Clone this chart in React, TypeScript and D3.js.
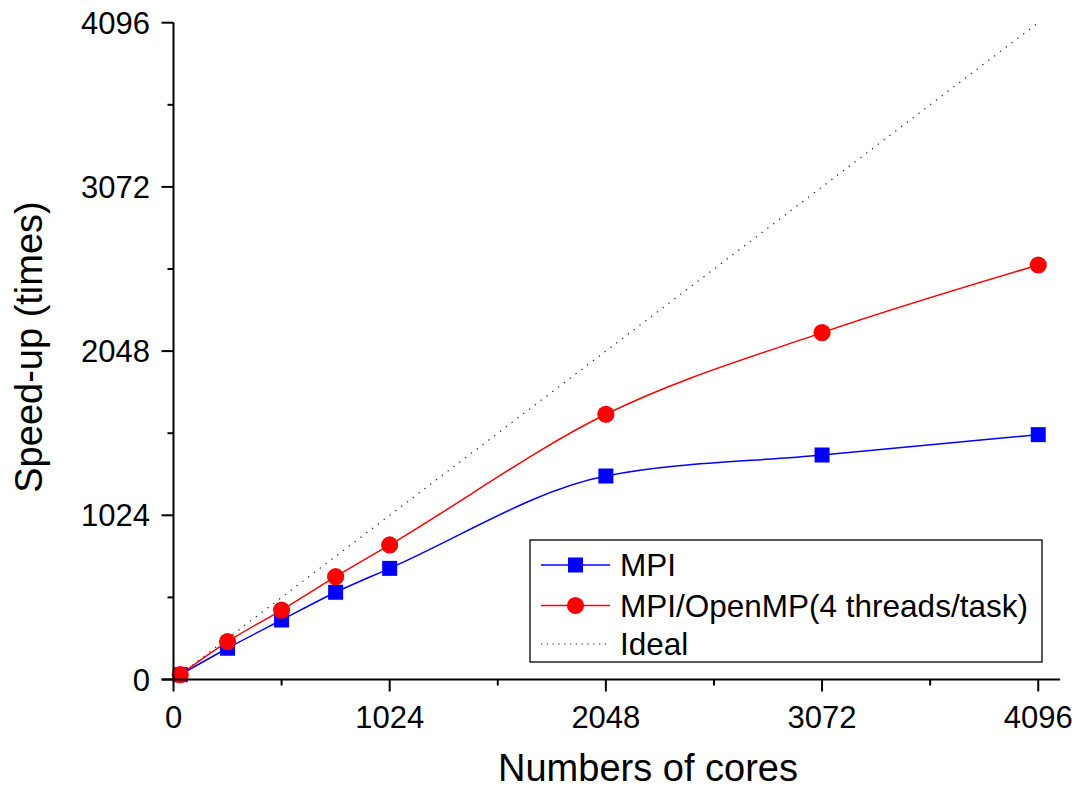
import React from "react";
import * as d3 from "d3";

const cores = [32, 256, 512, 768, 1024, 2048, 3072, 4096];
const mpiSpeedup = [30, 195, 371, 544, 693, 1269, 1400, 1527];
const hybridSpeedup = [30, 236, 433, 641, 839, 1654, 2163, 2585];
const idealSpeedup = [32, 256, 512, 768, 1024, 2048, 3072, 4096];
const majorTicks = [0, 1024, 2048, 3072, 4096];
const minorTicks = [512, 1536, 2560, 3584];
const legendLabels = ["MPI", "MPI/OpenMP(4 threads/task)", "Ideal"];

const W = 1076;
const H = 790;
const FONT = "'Liberation Sans', Arial, Helvetica, sans-serif";

export default function App() {
  const x = d3.scaleLinear().domain([0, 4200]).range([173.5, 1060.2]);
  const y = d3.scaleLinear().domain([0, 4096]).range([679.5, 22.7]);

  const line = d3
    .line<[number, number]>()
    .x((d) => x(d[0]))
    .y((d) => y(d[1]))
    .curve(d3.curveMonotoneX);
  const straight = d3
    .line<[number, number]>()
    .x((d) => x(d[0]))
    .y((d) => y(d[1]));

  const mpi = cores.map((c, i) => [c, mpiSpeedup[i]] as [number, number]);
  const hyb = cores.map((c, i) => [c, hybridSpeedup[i]] as [number, number]);
  const ideal = cores.map((c, i) => [c, idealSpeedup[i]] as [number, number]);

  const x0 = x(0);
  const y0 = y(0);
  const lx = 530;
  const ly = 540;
  const rowY = [565, 605.5, 644];

  return (
    <svg
      width={W}
      height={H}
      style={{ position: "absolute", left: 0, top: 0, background: "#fff" }}
      fontFamily={FONT}
    >
      <rect x={0} y={0} width={W} height={H} fill="#fff" />
      {/* ideal */}
      <path
        d={straight(ideal) || ""}
        fill="none"
        stroke="#222"
        strokeWidth={1.2}
        strokeDasharray="1.3 6"
      />
      {/* MPI */}
      <path d={line(mpi) || ""} fill="none" stroke="#0000ff" strokeWidth={1.5} />
      {/* Hybrid */}
      <path d={line(hyb) || ""} fill="none" stroke="#ff0000" strokeWidth={1.5} />
      {mpi.map((d, i) => (
        <rect
          key={"m" + i}
          x={x(d[0]) - 7.5}
          y={y(d[1]) - 7.5}
          width={15}
          height={15}
          fill="#0000ff"
        />
      ))}
      {hyb.map((d, i) => (
        <circle key={"h" + i} cx={x(d[0])} cy={y(d[1])} r={8.6} fill="#ff0000" />
      ))}

      {/* axes */}
      <line x1={x0} x2={x0} y1={y(4096)} y2={y0 + 1} stroke="#000" strokeWidth={2} />
      <line x1={x0 - 12} x2={x(4200)} y1={y0} y2={y0} stroke="#000" strokeWidth={2} />
      {majorTicks.map((t) => (
        <g key={"xt" + t}>
          <line x1={x(t)} x2={x(t)} y1={y0} y2={y0 + 12} stroke="#000" strokeWidth={2} />
          <text x={x(t)} y={728} textAnchor="middle" fontSize={31}>
            {t}
          </text>
        </g>
      ))}
      {minorTicks.map((t) => (
        <line key={"xm" + t} x1={x(t)} x2={x(t)} y1={y0} y2={y0 + 6} stroke="#000" strokeWidth={2} />
      ))}
      {majorTicks.map((t) => (
        <g key={"yt" + t}>
          <line x1={x0 - 12} x2={x0} y1={y(t)} y2={y(t)} stroke="#000" strokeWidth={2} />
          <text x={150} y={y(t) + 11} textAnchor="end" fontSize={31}>
            {t}
          </text>
        </g>
      ))}
      {minorTicks.map((t) => (
        <line key={"ym" + t} x1={x0 - 6} x2={x0} y1={y(t)} y2={y(t)} stroke="#000" strokeWidth={2} />
      ))}

      {/* axis titles */}
      <text x={648} y={781} textAnchor="middle" fontSize={38}>
        Numbers of cores
      </text>
      <text
        transform={`translate(42,347) rotate(-90)`}
        textAnchor="middle"
        fontSize={38}
      >
        Speed-up (times)
      </text>

      {/* legend */}
      <rect x={lx} y={ly} width={512} height={122} fill="#fff" stroke="#000" strokeWidth={1.3} />
      <line x1={541} x2={610} y1={rowY[0]} y2={rowY[0]} stroke="#0000ff" strokeWidth={1.5} />
      <rect x={575.5 - 7.5} y={rowY[0] - 7.5} width={15} height={15} fill="#0000ff" />
      <line x1={541} x2={610} y1={rowY[1]} y2={rowY[1]} stroke="#ff0000" strokeWidth={1.5} />
      <circle cx={575.5} cy={rowY[1]} r={8.6} fill="#ff0000" />
      <line
        x1={541}
        x2={610}
        y1={rowY[2]}
        y2={rowY[2]}
        stroke="#222"
        strokeWidth={1.2}
        strokeDasharray="1.3 4.5"
      />
      {legendLabels.map((l, i) => (
        <text key={l} x={620} y={rowY[i] + 11} fontSize={31.5}>
          {l}
        </text>
      ))}
    </svg>
  );
}
